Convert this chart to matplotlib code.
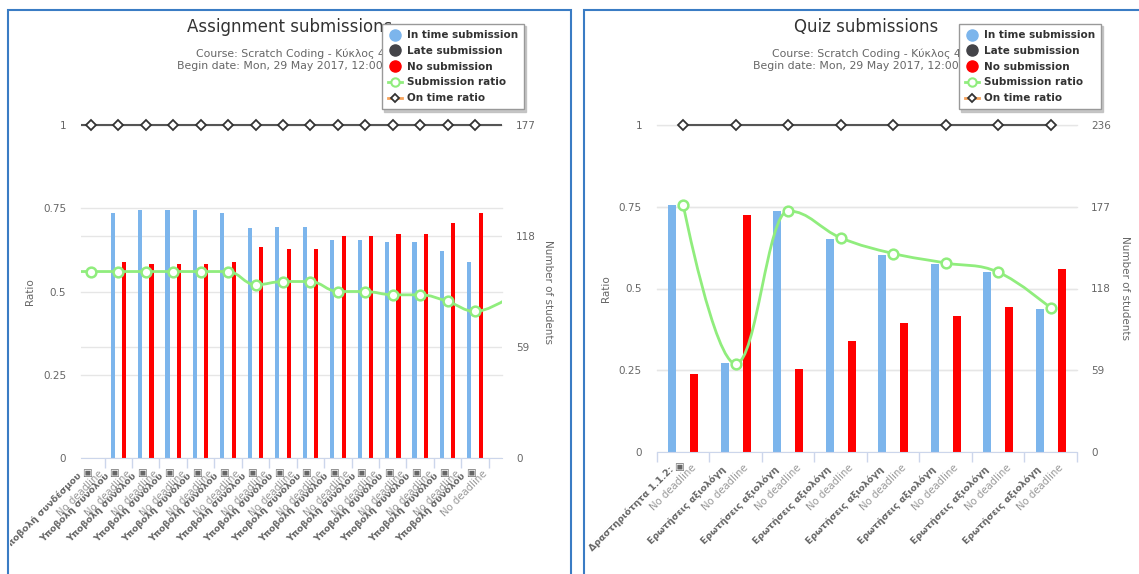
import numpy as np
import matplotlib.pyplot as plt
from matplotlib.lines import Line2D
from matplotlib.patches import Rectangle, PathPatch
from matplotlib.path import Path
from matplotlib.transforms import Bbox, TransformedBbox, blended_transform_factory

W, H = 1139, 574
PT = 0.72  # points per pixel at dpi 100

# ---- Assignment submissions ----
assign_names = ['Υποβολή συνδέσμου'] + ['Υποβολή συνόλου'] * 14
assign_icons = [True] * 15
assign_in_time = [0, 130, 132, 132, 132, 130, 122, 123, 123, 116, 116, 115, 115, 110, 104]
assign_late = [0] * 15
assign_none = [0, 104, 103, 103, 103, 104, 112, 111, 111, 118, 118, 119, 119, 125, 130]
# ratio series keep the points just outside the visible window (-1 and 15)
assign_ratio_x = list(range(-1, 16))
assign_ratio = [0.56, 0.56, 0.56, 0.56, 0.56, 0.56, 0.56, 0.52, 0.53, 0.53,
                0.50, 0.50, 0.49, 0.49, 0.47, 0.44, 0.47]
assign_on_time = [1] * 17
assign_count_ticks = [0, 59, 118, 177]

# ---- Quiz submissions ----
quiz_names = ['Δραστηριότητα 1.1.2:'] + ['Ερωτήσεις αξιολόγη'] * 7
quiz_icons = [True] + [False] * 7
quiz_in_time = [178, 64, 174, 154, 142, 136, 130, 103]
quiz_late = [0] * 8
quiz_none = [56, 171, 60, 80, 93, 98, 105, 132]
quiz_ratio_x = list(range(8))
quiz_ratio = [0.755, 0.27, 0.737, 0.655, 0.607, 0.578, 0.55, 0.44]
quiz_on_time = [1] * 8
quiz_count_ticks = [0, 59, 118, 177, 236]

ratio_ticks = [0, 0.25, 0.5, 0.75, 1]
ratio_labels = ['0', '0.25', '0.5', '0.75', '1']
course = 'Course: Scratch Coding - Κύκλος 4'
begin = 'Begin date: Mon, 29 May 2017, 12:00 AM'

C_BLUE, C_DARK, C_RED, C_GREEN = '#7cb5ec', '#434348', '#ff0000', '#90ed7d'


def spline_path(xs, ys):
    # highcharts style spline (smoothing 1.5, no overshoot)
    pts = list(zip(xs, ys))
    n = len(pts)
    lc, rc = [None] * n, [None] * n
    sm = 1.5
    d = sm + 1
    for i in range(1, n - 1):
        (xa, ya), (x, y), (xb, yb) = pts[i - 1], pts[i], pts[i + 1]
        lx, ly = (sm * x + xa) / d, (sm * y + ya) / d
        rx, ry = (sm * x + xb) / d, (sm * y + yb) / d
        corr = (ry - ly) * (rx - x) / (rx - lx) + y - ry
        ly += corr
        ry += corr
        if ly > ya and ly > y:
            ly = max(ya, y); ry = 2 * y - ly
        elif ly < ya and ly < y:
            ly = min(ya, y); ry = 2 * y - ly
        if ry > yb and ry > y:
            ry = max(yb, y); ly = 2 * y - ry
        elif ry < yb and ry < y:
            ry = min(yb, y); ly = 2 * y - ry
        lc[i], rc[i] = (lx, ly), (rx, ry)
    verts, codes = [pts[0]], [Path.MOVETO]
    for i in range(1, n):
        verts += [rc[i - 1] or pts[i - 1], lc[i] or pts[i], pts[i]]
        codes += [Path.CURVE4] * 3
    return Path(verts, codes)


fig = plt.figure(figsize=(W / 100, H / 100), dpi=100)


def chart(panel, plot, center, title, names, icons, in_time, late, none,
          rx, ratio, on_time, count_ticks, xlim, bw, legend_at, lab_x):
    x0, y0, x1, y1 = plot
    ax = fig.add_axes([x0 / W, 1 - y1 / H, (x1 - x0) / W, (y1 - y0) / H])
    ax2 = ax.twinx()
    ax.yaxis.tick_right()
    ax.yaxis.set_label_position('right')
    ax2.yaxis.tick_left()
    ax2.yaxis.set_label_position('left')

    x = np.arange(len(names))
    ax.bar(x - 0.21, in_time, width=bw, color=C_BLUE, zorder=1)
    ax.bar(x, late, width=bw, color=C_DARK, zorder=1)
    ax.bar(x + 0.21, none, width=bw, color=C_RED, zorder=1)

    ax.set_xlim(*xlim)
    ax.set_ylim(0, count_ticks[-1])
    ax2.set_ylim(0, 1)
    ax.set_yticks(count_ticks)
    ax.set_yticklabels([str(t) for t in count_ticks])
    ax2.set_yticks(ratio_ticks)
    ax2.set_yticklabels(ratio_labels)

    for a in (ax, ax2):
        for s in a.spines.values():
            s.set_visible(False)
    ax.spines['bottom'].set_visible(True)
    ax.spines['bottom'].set_color('#ccd6eb')
    ax.spines['bottom'].set_zorder(3)

    ax.set_xticks(np.arange(-0.5, len(names) + 0.5))
    ax.set_xticklabels([])
    ax.tick_params(axis='x', length=10 * PT, color='#ccd6eb', width=1)
    ax.tick_params(axis='y', length=0, pad=14 * PT, labelcolor='#666666', labelsize=7.5)
    ax2.tick_params(axis='y', length=0, pad=15 * PT, labelcolor='#666666', labelsize=7.5)

    ax.set_axisbelow(True)
    ax.grid(axis='y', color='#e6e6e6', lw=1)
    btr = blended_transform_factory(ax.transAxes, ax2.transData)
    for r in ratio_ticks[1:]:
        ax.plot([0, 1], [r, r], transform=btr, color='#e6e6e6', lw=1, zorder=0.5, clip_on=False)

    clip = Rectangle((0, -0.05), 1, 1.1, transform=ax2.transAxes, visible=False)
    ax2.add_patch(clip)
    rx = np.array(rx)
    vis = (rx >= xlim[0]) & (rx <= xlim[1])

    # on time ratio
    ln, = ax2.plot(rx, on_time, color='#555555', lw=1.5, zorder=3)
    ln.set_clip_path(clip)
    mk, = ax2.plot(rx[vis], np.array(on_time)[vis], 'D', ms=5, mfc='white', mec='#333333',
                   mew=1.3, zorder=4)
    mk.set_clip_path(clip)

    # submission ratio (spline)
    patch = PathPatch(spline_path(rx, ratio), fill=False, edgecolor=C_GREEN, lw=2,
                      transform=ax2.transData, zorder=3)
    ax2.add_patch(patch)
    patch.set_clip_path(clip)
    mk2, = ax2.plot(rx[vis], np.array(ratio)[vis], 'o', ms=7, mfc='white', mec=C_GREEN,
                    mew=1.8, zorder=4)
    mk2.set_clip_path(clip)

    ax2.set_xlim(*xlim)
    ax2.set_ylim(0, 1)

    ax2.set_ylabel('Ratio', color='#666666', fontsize=7.5)
    ax2.yaxis.set_label_coords((lab_x[0] - x0) / (x1 - x0), 0.5)
    ax.set_ylabel('Number of students', color='#666666', fontsize=7.5, rotation=270,
                  ha='center', va='center')
    ax.yaxis.set_label_coords((lab_x[1] - x0) / (x1 - x0), 0.5)
    ax2.yaxis.label.set_va('center')

    # rotated two-line category labels, clipped to the panel box
    px0, py0, px1 = panel
    cbox = TransformedBbox(Bbox.from_extents((px0 + 1.5) / W, 0, px1 / W, 1 - py0 / H),
                           fig.transFigure)
    tr = ax.get_xaxis_transform()
    for i, name in enumerate(names):
        t1 = ax.annotate(name, xy=(i, 0), xycoords=tr, xytext=(-9 * PT, -18 * PT),
                         textcoords='offset points', rotation=45, rotation_mode='anchor',
                         ha='right', va='baseline', fontsize=6.7, fontweight='bold',
                         color='#666666')
        t2 = ax.annotate('No deadline', xy=(i, 0), xycoords=tr, xytext=(13 * PT, -16 * PT),
                         textcoords='offset points', rotation=45, rotation_mode='anchor',
                         ha='right', va='baseline', fontsize=7.3, color='#999999')
        ts = [t1, t2]
        if icons[i]:
            ts.append(ax.annotate('▣', xy=(i, 0), xycoords=tr, xytext=(-4 * PT, -15 * PT),
                                  textcoords='offset points', ha='center', va='center',
                                  fontsize=7.5, color='#666666'))
        for t in ts:
            t.set_clip_on(True)
            t.set_clip_box(cbox)

    # title / subtitle
    fig.text(center / W, 1 - 31.7 / H, title, ha='center', va='baseline', fontsize=12,
             color='#333333')
    fig.text(center / W, 1 - 56.7 / H, course, ha='center', va='baseline', fontsize=7.8,
             color='#666666')
    fig.text(center / W, 1 - 69.3 / H, begin, ha='center', va='baseline', fontsize=7.8,
             color='#666666')

    handles = [
        Line2D([], [], ls='none', marker='o', ms=8, color=C_BLUE),
        Line2D([], [], ls='none', marker='o', ms=8, color=C_DARK),
        Line2D([], [], ls='none', marker='o', ms=8, color=C_RED),
        Line2D([], [], color=C_GREEN, lw=2, marker='o', ms=6, mfc='white', mec=C_GREEN, mew=1.5),
        Line2D([], [], color='#f7a35c', lw=2, marker='D', ms=4.5, mfc='white', mec='#333333', mew=1.3),
    ]
    labels = ['In time submission', 'Late submission', 'No submission',
              'Submission ratio', 'On time ratio']
    leg = fig.legend(handles, labels, loc='upper left',
                     bbox_to_anchor=(legend_at[0] / W, 1 - legend_at[1] / H),
                     frameon=True, fancybox=False, edgecolor='#999999', framealpha=1,
                     shadow={'ox': 1.5, 'oy': -1.5, 'color': '#bbbbbb', 'alpha': 0.8},
                     prop={'weight': 'bold', 'size': 7.5}, labelcolor='#333333',
                     handlelength=1.3, handletextpad=0.5, labelspacing=0.55,
                     borderpad=0.6, borderaxespad=0)
    leg.set_zorder(10)
    leg.get_frame().set_linewidth(1)


chart((8.3, 10.3, 571), (81, 125, 502, 458), 290, 'Assignment submissions',
      assign_names, assign_icons, assign_in_time, assign_late, assign_none,
      assign_ratio_x, assign_ratio, assign_on_time, assign_count_ticks,
      (-0.36, 14.98), 0.15, (382, 24), (30, 548))
chart((584.3, 10.3, W + 10), (657, 125, 1077, 452), 866, 'Quiz submissions',
      quiz_names, quiz_icons, quiz_in_time, quiz_late, quiz_none,
      quiz_ratio_x, quiz_ratio, quiz_on_time, quiz_count_ticks,
      (-0.5, 7.5), 0.16, (959, 24), (606, 1125))

# panel borders
for bx0, bx1 in ((8.3, 571), (584.3, W + 20)):
    fig.add_artist(Rectangle((bx0 / W, -0.05), (bx1 - bx0) / W, 1.05 - 10.3 / H,
                             transform=fig.transFigure, fill=False, edgecolor='#3a7cc4', lw=1.5))

fig.savefig('out.png', dpi=100)
